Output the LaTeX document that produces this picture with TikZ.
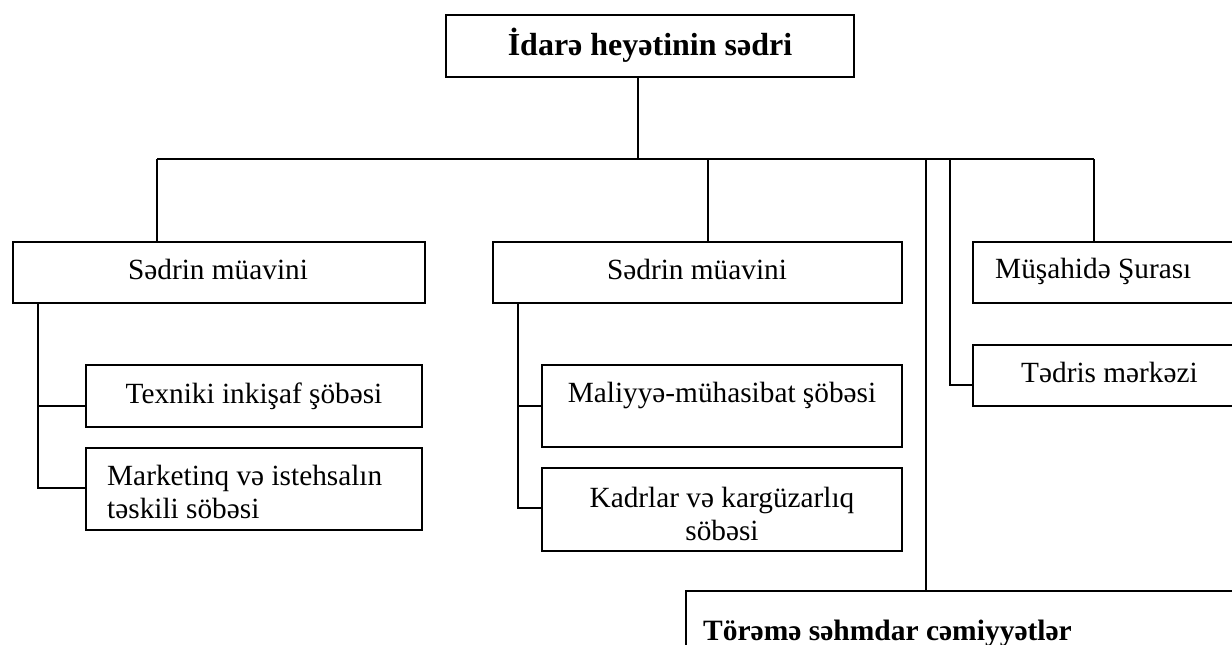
\documentclass[tikz,border=0pt]{standalone}
\usepackage{fontspec}
\setmainfont{Liberation Serif}
\begin{document}
\begin{tikzpicture}[x=1pt,y=-1pt,
  box/.style={draw=black, line width=1.9pt, rectangle, inner sep=0pt, outer sep=0pt, anchor=north west},
  link/.style={draw=black, line width=1.9pt},
  txt/.style={inner sep=0pt, font=\fontsize{29.3}{33}\selectfont},
  btxt/.style={inner sep=0pt, font=\fontsize{32}{36}\selectfont\bfseries}]
\useasboundingbox (0,0) rectangle (1232,645);

% boxes
\node[box, minimum width=408pt, minimum height=62pt] (top) at (446,15) {};
\node[box, minimum width=412pt, minimum height=61pt] (sm1) at (13,242) {};
\node[box, minimum width=409pt, minimum height=61pt] (sm2) at (493,242) {};
\node[box, minimum width=270pt, minimum height=61pt] (mus) at (973,242) {};
\node[box, minimum width=270pt, minimum height=61pt] (ted) at (973,345) {};
\node[box, minimum width=336pt, minimum height=62pt] (tex) at (86,365) {};
\node[box, minimum width=336pt, minimum height=82pt] (mar) at (86,448) {};
\node[box, minimum width=360pt, minimum height=82pt] (mal) at (542,365) {};
\node[box, minimum width=360pt, minimum height=83pt] (kad) at (542,468) {};
\node[box, minimum width=560pt, minimum height=80pt] (tor) at (686,591) {};

% texts
\node[btxt, anchor=base] (topT) at (650,55) {İdarə heyətinin sədri};
\node[txt, anchor=base] (sm1T) at (218,279) {Sədrin müavini};
\node[txt, anchor=base] (sm2T) at (697,279) {Sədrin müavini};
\node[txt, anchor=base] (texT) at (254,403) {Texniki inkişaf şöbəsi};
\node[txt, anchor=north west, align=left] (marT) at (107,465) {Marketinq və istehsalın\\təskili söbəsi};
\node[txt, anchor=base] (malT) at (722,402) {Maliyyə-mühasibat şöbəsi};
\node[txt, anchor=north, align=center] (kadT) at (722,487) {Kadrlar və kargüzarlıq\\söbəsi};
\node[txt, anchor=base west] (musT) at (995,278) {Müşahidə Şurası};
\node[txt, anchor=base west] (tedT) at (1021,382) {Tədris mərkəzi};
\node[btxt, anchor=base west, font=\fontsize{29.5}{34}\selectfont\bfseries] (torT) at (703,640) {Törəmə səhmdar cəmiyyətlər};

% main bus
\coordinate (hub) at (638,159);
\coordinate (hL) at (157,159);
\coordinate (h2) at (708,159);
\coordinate (h3) at (926,159);
\coordinate (h4) at (950,159);
\coordinate (hR) at (1094,159);
\coordinate (t4) at (950,385);
\draw[link] (hub |- top.south) -- (hub);
\draw[link] (hL) -- (hR);
\draw[link] (hL) -- (hL |- sm1.north);
\draw[link] (h2) -- (h2 |- sm2.north);
\draw[link] (h3) -- (h3 |- tor.north);
\draw[link] (h4) -- (t4) -- (t4 -| ted.west);
\draw[link] (hR) -- (hR |- mus.north);

% left deputy
\coordinate (s1) at (38,303);
\coordinate (s1a) at (38,406);
\coordinate (s1b) at (38,488);
\draw[link] (s1 |- sm1.south) -- (s1b) -- (s1b -| mar.west);
\draw[link] (s1a) -- (s1a -| tex.west);

% middle deputy
\coordinate (s2) at (518,303);
\coordinate (s2a) at (518,406);
\coordinate (s2b) at (518,508);
\draw[link] (s2 |- sm2.south) -- (s2b) -- (s2b -| kad.west);
\draw[link] (s2a) -- (s2a -| mal.west);
\end{tikzpicture}
\end{document}
